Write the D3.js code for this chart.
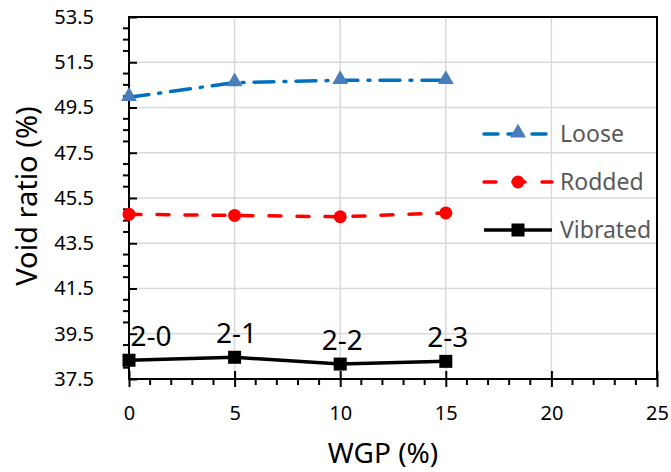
<html>
<script src="https://d3js.org/d3.v7.min.js"></script>
<style>
  body { margin: 0; background: white; }
  text { font-family: "Noto Sans", "Open Sans", sans-serif; }
</style>
<body>
<svg width=671 height=472></svg>
<script>
var wgp = [0, 5, 10, 15];
var loose = [49.95, 50.6, 50.7, 50.7];
var rodded = [44.78, 44.73, 44.67, 44.84];
var vibrated = [38.33, 38.46, 38.16, 38.28];
var pointLabels = ["2-0", "2-1", "2-2", "2-3"];
var xTicks = [0, 5, 10, 15, 20, 25];
var yTicks = [37.5, 39.5, 41.5, 43.5, 45.5, 47.5, 49.5, 51.5, 53.5];
var seriesNames = ["Loose", "Rodded", "Vibrated"];

var svg = d3.select("svg");
svg.append("rect").attr("width", 671).attr("height", 472).attr("fill", "white");

var pl = 129, pr = 657, pt = 17, pb = 379;
var x = d3.scaleLinear().domain([0, 25]).range([pl, pr]);
var y = d3.scaleLinear().domain([37.5, 53.5]).range([pb, pt]);

// gridlines
var grid = svg.append("g");
grid.selectAll(".gx").data(xTicks.slice(1, -1)).enter().append("line")
  .attr("x1", d => x(d)).attr("x2", d => x(d))
  .attr("y1", pt).attr("y2", pb)
  .attr("stroke", "#d9d9d9").attr("stroke-width", 1.5);
grid.selectAll(".gy").data(yTicks.slice(1, -1)).enter().append("line")
  .attr("y1", d => y(d)).attr("y2", d => y(d))
  .attr("x1", pl).attr("x2", pr)
  .attr("stroke", "#d9d9d9").attr("stroke-width", 1.5);

// frame
svg.append("rect").attr("x", pl).attr("y", pt)
  .attr("width", pr - pl).attr("height", pb - pt)
  .attr("fill", "none").attr("stroke", "black").attr("stroke-width", 2);

// minor ticks
var minorX = d3.range(0, 25.01, 1).filter(d => d % 5 != 0);
svg.append("g").selectAll("line").data(minorX).enter().append("line")
  .attr("x1", d => x(d)).attr("x2", d => x(d))
  .attr("y1", pb).attr("y2", pb + 6)
  .attr("stroke", "black").attr("stroke-width", 2);
var minorY = d3.range(37.5, 53.51, 0.5).filter(d => Math.abs(((d - 37.5) % 2)) > 0.01);
svg.append("g").selectAll("line").data(minorY).enter().append("line")
  .attr("y1", d => y(d)).attr("y2", d => y(d))
  .attr("x1", pl - 6).attr("x2", pl)
  .attr("stroke", "black").attr("stroke-width", 2);

// axes with crossing major ticks
var xAxis = svg.append("g").attr("transform", "translate(0," + pb + ")")
  .call(d3.axisBottom(x).tickValues(xTicks).tickSizeInner(8).tickSizeOuter(0).tickPadding(19));
xAxis.attr("font-size", null).attr("font-family", null);
xAxis.select(".domain").remove();
xAxis.selectAll(".tick line").attr("y1", -8).attr("stroke-width", 2);
xAxis.selectAll(".tick text").style("font-size", "20px").attr("fill", "#000");

var yAxis = svg.append("g").attr("transform", "translate(" + pl + ",0)")
  .call(d3.axisLeft(y).tickValues(yTicks).tickFormat(d3.format(".1f")).tickSizeInner(9).tickSizeOuter(0).tickPadding(26));
yAxis.attr("font-size", null).attr("font-family", null);
yAxis.select(".domain").remove();
yAxis.selectAll(".tick line").attr("x2", 8).attr("stroke-width", 2);
yAxis.selectAll(".tick text").style("font-size", "20px").attr("fill", "#000");

// titles
svg.append("text").attr("x", 383).attr("y", 463).attr("text-anchor", "middle")
  .attr("font-size", "28px").attr("fill", "#000").text("WGP (%)");
svg.append("text").attr("transform", "translate(37,196) rotate(-90)")
  .attr("text-anchor", "middle").attr("font-size", "29px").attr("fill", "#000").text("Void ratio (%)");

var line = d3.line().x((d, i) => x(wgp[i])).y(d => y(d));

// Loose
svg.append("path").datum(loose).attr("d", line).attr("fill", "none")
  .attr("stroke", "#0070C0").attr("stroke-width", 3.5)
  .attr("stroke-dasharray", "20,10,2,10").attr("stroke-linecap", "round");
var tri = d3.symbol().type(d3.symbolTriangle).size(110);
svg.append("g").selectAll("path").data(loose).enter().append("path")
  .attr("d", tri).attr("transform", (d, i) => "translate(" + x(wgp[i]) + "," + (y(d) - 1) + ")")
  .attr("fill", "#4a7ebb");

// Rodded
svg.append("path").datum(rodded).attr("d", line).attr("fill", "none")
  .attr("stroke", "#ff0000").attr("stroke-width", 3.5)
  .attr("stroke-dasharray", "12,16").attr("stroke-linecap", "round");
svg.append("g").selectAll("circle").data(rodded).enter().append("circle")
  .attr("cx", (d, i) => x(wgp[i])).attr("cy", d => y(d)).attr("r", 6.5)
  .attr("fill", "#ff0000");

// Vibrated
svg.append("path").datum(vibrated).attr("d", line).attr("fill", "none")
  .attr("stroke", "#000").attr("stroke-width", 3.5);
svg.append("g").selectAll("rect").data(vibrated).enter().append("rect")
  .attr("x", (d, i) => x(wgp[i]) - 6.5).attr("y", d => y(d) - 6.5)
  .attr("width", 13).attr("height", 13).attr("fill", "#000");

// point labels
svg.append("g").selectAll("text").data(vibrated).enter().append("text")
  .attr("x", (d, i) => x(wgp[i]) + (i == 0 ? 22 : 2))
  .attr("y", d => y(d) - 14)
  .attr("text-anchor", "middle").attr("font-size", "28px").attr("fill", "#000")
  .text((d, i) => pointLabels[i]);

// legend
var legend = svg.append("g");
var legY = [134, 182, 230];
var styles = [
  {c: "#0070C0", dash: "14,10", mk: "tri", mc: "#4a7ebb"},
  {c: "#ff0000", dash: "12,17", mk: "circle", mc: "#ff0000"},
  {c: "#000", dash: null, mk: "square", mc: "#000"}
];
seriesNames.forEach(function(name, i) {
  var g = legend.append("g").attr("transform", "translate(0," + legY[i] + ")");
  var s = styles[i];
  var ln = g.append("line").attr("x1", 484).attr("x2", 552).attr("y1", 0).attr("y2", 0)
    .attr("stroke", s.c).attr("stroke-width", 3.5);
  if (s.dash) ln.attr("stroke-dasharray", s.dash).attr("stroke-linecap", "round");
  if (s.mk == "tri") g.append("path").attr("d", tri).attr("transform", "translate(518,-1)").attr("fill", s.mc);
  if (s.mk == "circle") g.append("circle").attr("cx", 518).attr("cy", 0).attr("r", 6.5).attr("fill", s.mc);
  if (s.mk == "square") g.append("rect").attr("x", 511.5).attr("y", -6.5).attr("width", 13).attr("height", 13).attr("fill", s.mc);
  g.append("text").attr("x", 560).attr("y", 8).attr("font-size", "23px").attr("fill", "#595959").text(name);
});
</script>
</body>
</html>
